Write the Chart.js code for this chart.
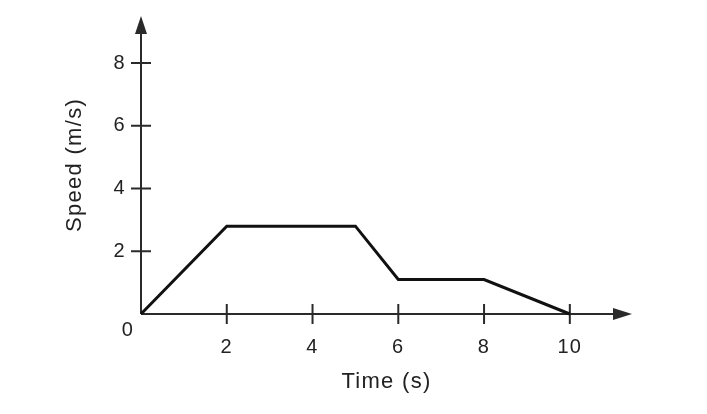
<!DOCTYPE html>
<html>
<head>
<meta charset="utf-8">
<script src="https://cdn.jsdelivr.net/npm/chart.js@4/dist/chart.umd.min.js"></script>
<style>
  html, body { margin: 0; padding: 0; background: #ffffff; }
  #wrap { width: 707px; height: 414px; position: relative; }
</style>
</head>
<body>
<div id="wrap"><canvas id="c" width="707" height="414"></canvas></div>
<script>
// Data
const timeValues  = [0, 2, 5, 6, 8, 10];
const speedValues = [0, 2.8, 2.8, 1.1, 1.1, 0];
const xTickValues = [2, 4, 6, 8, 10];
const yTickValues = [2, 4, 6, 8];
const xAxisTitle = 'Time (s)';
const yAxisTitle = 'Speed (m/s)';
const originLabel = '0';

const points = timeValues.map((t, i) => ({ x: t, y: speedValues[i] }));
const AXIS_COLOR = '#222222';
const FONT = 'Liberation Sans, Arial, Helvetica, sans-serif';

const axesPlugin = {
  id: 'arrowAxes',
  beforeDraw(chart) {
    chart.ctx.letterSpacing = '1.3px';
  },
  beforeDatasetsDraw(chart) {
    const ctx = chart.ctx;
    const xs = chart.scales.x, ys = chart.scales.y;
    const x0 = xs.getPixelForValue(0), y0 = ys.getPixelForValue(0);
    const xEnd = xs.getPixelForValue(xs.max), yEnd = ys.getPixelForValue(ys.max);
    ctx.save();
    ctx.strokeStyle = '#2a2a2a';
    ctx.fillStyle = '#2a2a2a';
    ctx.lineWidth = 2;
    // axis lines
    ctx.beginPath();
    ctx.moveTo(x0, y0); ctx.lineTo(xEnd - 10, y0);
    ctx.moveTo(x0, y0); ctx.lineTo(x0, yEnd + 10);
    ctx.stroke();
    // arrowheads
    ctx.beginPath();
    ctx.moveTo(xEnd, y0); ctx.lineTo(xEnd - 19, y0 - 6); ctx.lineTo(xEnd - 19, y0 + 6); ctx.closePath();
    ctx.fill();
    ctx.beginPath();
    ctx.moveTo(x0, yEnd); ctx.lineTo(x0 - 6, yEnd + 18); ctx.lineTo(x0 + 6, yEnd + 18); ctx.closePath();
    ctx.fill();
    // crossing tick marks
    ctx.beginPath();
    xTickValues.forEach(v => {
      const px = xs.getPixelForValue(v);
      ctx.moveTo(px, y0 - 10); ctx.lineTo(px, y0 + 10);
    });
    yTickValues.forEach(v => {
      const py = ys.getPixelForValue(v);
      ctx.moveTo(x0 - 10, py); ctx.lineTo(x0 + 10, py);
    });
    ctx.stroke();
    // origin label
    ctx.font = '20px ' + FONT;
    ctx.textAlign = 'center';
    ctx.textBaseline = 'middle';
    ctx.fillStyle = AXIS_COLOR;
    ctx.fillText(originLabel, x0 - 13, y0 + 16);
    ctx.restore();
  }
};

new Chart(document.getElementById('c'), {
  type: 'scatter',
  data: {
    datasets: [{
      data: points,
      showLine: true,
      borderColor: '#111111',
      borderWidth: 3,
      pointRadius: 0,
      tension: 0,
      fill: false,
      clip: false
    }]
  },
  plugins: [axesPlugin],
  options: {
    responsive: false,
    animation: false,
    devicePixelRatio: 1,
    layout: { padding: { left: 0, right: 75, top: 16, bottom: 0 } },
    plugins: { legend: { display: false }, tooltip: { enabled: false } },
    scales: {
      x: {
        type: 'linear',
        min: 0,
        max: 11.45,
        afterBuildTicks: s => { s.ticks = xTickValues.map(v => ({ value: v })); },
        afterFit: s => { s.height = 100; s.paddingLeft = 0; s.paddingRight = 0; },
        grid: { display: false, drawTicks: false },
        border: { display: false },
        ticks: { color: AXIS_COLOR, font: { size: 20, family: FONT }, padding: 21, maxRotation: 0, autoSkip: false },
        title: { display: true, text: xAxisTitle, color: AXIS_COLOR, font: { size: 22, family: FONT }, padding: { top: 0, bottom: 19 } }
      },
      y: {
        type: 'linear',
        min: 0,
        max: 9.5,
        afterBuildTicks: s => { s.ticks = yTickValues.map(v => ({ value: v })); },
        afterFit: s => { s.width = 141; s.paddingTop = 0; s.paddingBottom = 0; },
        grid: { display: false, drawTicks: false },
        border: { display: false },
        ticks: { color: AXIS_COLOR, font: { size: 20, family: FONT }, padding: 15, autoSkip: false },
        title: { display: true, text: yAxisTitle, color: AXIS_COLOR, font: { size: 22, family: FONT }, padding: { top: 62, bottom: 0 } }
      }
    }
  }
});
</script>
</body>
</html>
